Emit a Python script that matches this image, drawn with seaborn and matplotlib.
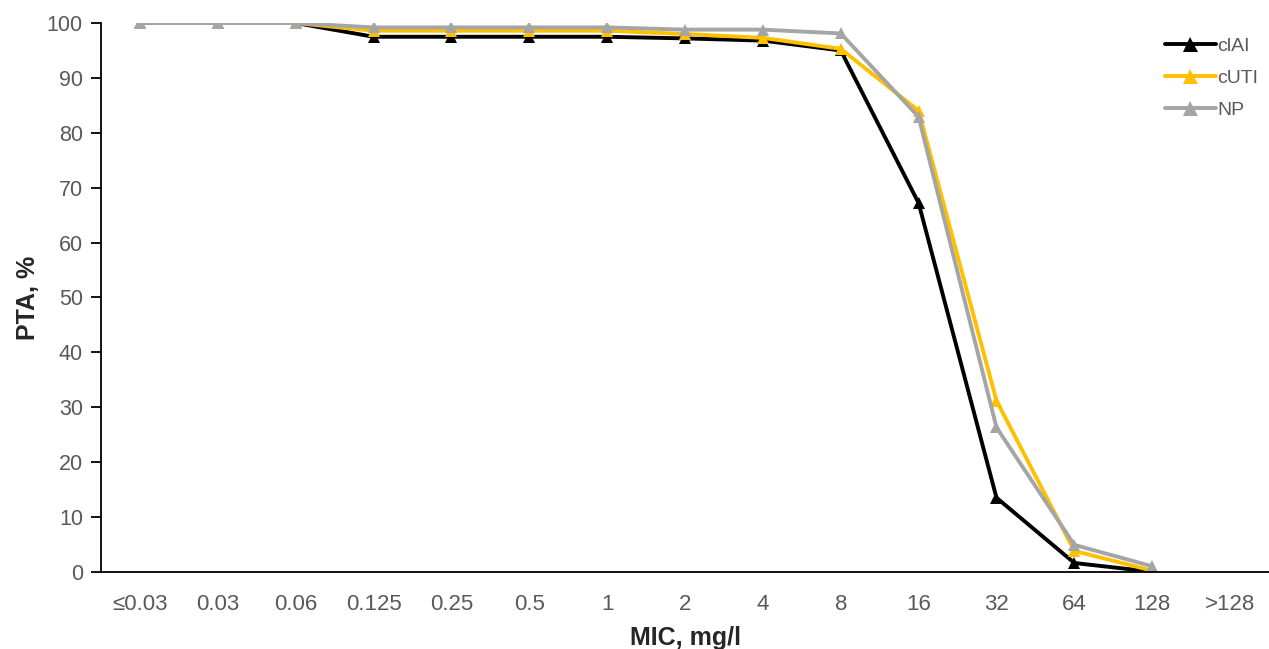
import matplotlib
matplotlib.use("Agg")
import matplotlib.pyplot as plt
import seaborn as sns
import pandas as pd

# MIC categories on the x axis
mic_labels = ["≤0.03", "0.03", "0.06", "0.125", "0.25", "0.5", "1", "2",
              "4", "8", "16", "32", "64", "128", ">128"]

# PTA (%) per regimen (no value at >128)
pta_clai = [100, 100, 100, 97.5, 97.5, 97.5, 97.5, 97.2, 96.8, 95.0, 67.2, 13.5, 1.6, 0.0]
pta_cuti = [100, 100, 100, 98.6, 98.6, 98.6, 98.6, 98.0, 97.3, 95.3, 84.0, 31.2, 3.8, 0.2]
pta_np = [100, 100, 100, 99.2, 99.2, 99.2, 99.2, 98.8, 98.8, 98.1, 82.9, 26.3, 4.9, 1.0]

series = {"clAI": pta_clai, "cUTI": pta_cuti, "NP": pta_np}
colors = {"clAI": "#000000", "cUTI": "#FFC000", "NP": "#A5A5A5"}

rows = []
for name, vals in series.items():
    for i, v in enumerate(vals):
        rows.append({"pos": i, "PTA": v, "series": name})
df = pd.DataFrame(rows)

sns.set_style("white")
plt.rcParams['font.family'] = ['Liberation Sans', 'DejaVu Sans']

fig = plt.figure(figsize=(12.69, 6.49), dpi=100)
ax = fig.add_axes([0.0796, 0.119, 0.9204, 0.8455])

sns.lineplot(data=df, x="pos", y="PTA", hue="series", palette=colors,
             hue_order=["clAI", "cUTI", "NP"], marker="^", markersize=9,
             markeredgewidth=0, linewidth=2.8, ax=ax)

ax.set_xlim(-0.5, len(mic_labels) - 0.5)
ax.set_ylim(0, 100)
ax.set_yticks(range(0, 101, 10))
ax.set_xticks(range(len(mic_labels)))
ax.set_xticklabels(mic_labels)

ax.tick_params(axis="y", direction="out", length=7, width=1.3, color="black",
               labelsize=15.5, labelcolor="#595959", pad=6, left=True)
ax.tick_params(axis="x", length=0, labelsize=16, labelcolor="#595959", pad=16)

for s in ["top", "right"]:
    ax.spines[s].set_visible(False)
for s in ["left", "bottom"]:
    ax.spines[s].set_color("black")
    ax.spines[s].set_linewidth(1.3)

ax.set_xlabel("MIC, mg/l", fontsize=18, fontweight="bold", labelpad=8)
ax.set_ylabel("PTA, %", fontsize=18, fontweight="bold", labelpad=5)

leg = ax.legend(loc="upper right", bbox_to_anchor=(1.006, 1.006), frameon=False,
                fontsize=14, handlelength=2.6, handletextpad=0.1,
                labelspacing=0.75, labelcolor="#595959", markerscale=1.2)

fig.savefig("out.png", dpi=100)
